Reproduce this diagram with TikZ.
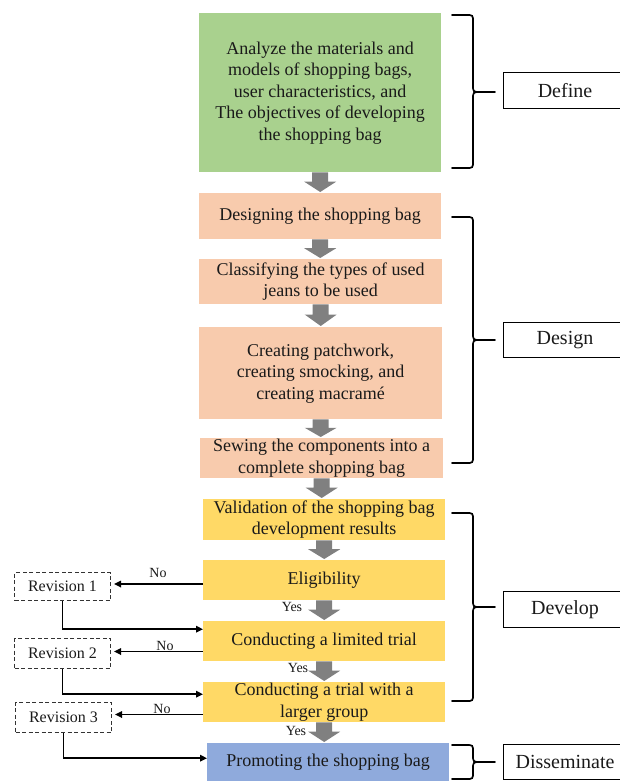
\documentclass[tikz,border=0pt]{standalone}
\usepackage{fontspec}
\setmainfont{Liberation Serif}
\usetikzlibrary{calc,arrows.meta}
\definecolor{cgreen}{HTML}{A9D18E}
\definecolor{corange}{HTML}{F8CBAD}
\definecolor{cyellow}{HTML}{FFD966}
\definecolor{cblue}{HTML}{8FAADC}
\definecolor{arrgray}{HTML}{808080}
\definecolor{txt}{HTML}{1A1A1A}
\newcommand{\fatarr}[2]{%
  \path (#1.south) coordinate (fa) (#2.north -| #1.south) coordinate (fb);
  \fill[arrgray] ($(fa)+(-8,0)$) -- ($(fa)!0.45!(fb)+(-8,0)$) -- ($(fa)!0.45!(fb)+(-16,0)$)
    -- ($(fb)+(0,-1)$) -- ($(fa)!0.45!(fb)+(16,0)$) -- ($(fa)!0.45!(fb)+(8,0)$)
    -- ($(fa)+(8,0)$) -- cycle;}
\newcommand{\rbr}[4]{%
  \draw[brc] (452,#1) -- (466,#1) .. controls (473,#1) .. (473,#1+7) -- (473,#2-7)
    .. controls (473,#2) .. (481,#2) .. controls (473,#2) .. (473,#2+7) -- (473,#3-7)
    .. controls (473,#3) .. (466,#3) -- (452,#3);
  \draw[brc] (481,#2) -- (495,#2) coordinate (#4);}
\begin{document}
\begin{tikzpicture}[x=1pt,y=-1pt,
  box/.style={inner sep=0pt, align=center, anchor=north west, text=txt,
    font=\fontsize{18}{21.5}\selectfont},
  rev/.style={draw=black!80, dashed, dash pattern=on 4pt off 2.5pt, line width=1pt,
    anchor=north west, minimum width=96pt, inner sep=0pt, text=txt,
    font=\fontsize{16}{19}\selectfont},
  lab/.style={draw=black, line width=1pt, anchor=north west, minimum width=123pt,
    inner sep=0pt, text=txt, font=\fontsize{20}{24}\selectfont},
  small/.style={inner sep=0pt, text=txt, font=\fontsize{14}{16}\selectfont},
  conn/.style={draw=black, line width=1.6pt, -{Triangle[length=7pt,width=6.5pt]}},
  brc/.style={draw=black, line width=1.7pt, line cap=round}]
\useasboundingbox (0,0) rectangle (619,781);

% main boxes
\node[box, fill=cgreen, minimum width=242pt, minimum height=159pt] (g) at (199,13)
  {Analyze the materials and\\models of shopping bags,\\user characteristics, and\\The objectives of developing\\the shopping bag};
\node[box, fill=corange, minimum width=242pt, minimum height=46pt] (d1) at (199,193)
  {Designing the shopping bag};
\node[box, fill=corange, minimum width=243pt, minimum height=45pt] (d2) at (199,259)
  {Classifying the types of used\\jeans to be used};
\node[box, fill=corange, minimum width=243pt, minimum height=92pt] (d3) at (199,327)
  {Creating patchwork,\\creating smocking, and\\creating macramé};
\node[box, fill=corange, minimum width=243pt, minimum height=40pt] (d4) at (200,438)
  {Sewing the components into a\\complete shopping bag};
\node[box, fill=cyellow, minimum width=242pt, minimum height=41pt] (v) at (203,499)
  {Validation of the shopping bag\\development results};
\node[box, fill=cyellow, minimum width=242pt, minimum height=40pt] (e) at (203,560)
  {Eligibility};
\node[box, fill=cyellow, minimum width=242pt, minimum height=40pt] (l) at (203,621)
  {Conducting a limited trial};
\node[box, fill=cyellow, minimum width=242pt, minimum height=40pt] (lg) at (203,682)
  {Conducting a trial with a\\larger group};
\node[box, fill=cblue, minimum width=242pt, minimum height=38pt] (p) at (207,743)
  {Promoting the shopping bag};

% fat arrows
\fatarr{g}{d1}
\fatarr{d1}{d2}
\fatarr{d2}{d3}
\fatarr{d3}{d4}
\fatarr{d4}{v}
\fatarr{v}{e}
\fatarr{e}{l}
\fatarr{l}{lg}
\fatarr{lg}{p}

% yes labels
\node[small] (y1) at (292,607) {Yes};
\node[small] (y2) at (298,668) {Yes};
\node[small] (y3) at (296,731) {Yes};

% revisions
\node[rev, minimum height=28pt] (r1) at (14,572) {Revision 1};
\node[rev, minimum height=30pt] (r2) at (14,638) {Revision 2};
\node[rev, minimum height=30pt] (r3) at (15,702) {Revision 3};

\coordinate (n1) at ($(r1.east)+(3,-2.5)$);
\coordinate (n2) at ($(r2.east)+(3,-2)$);
\coordinate (n3) at ($(r3.east)+(3,-3)$);
\draw[conn] (e.west |- n1) -- (n1);
\draw[conn] (l.west |- n2) -- (n2);
\draw[conn] (lg.west |- n3) -- (n3);
\node[small] (no1) at (158,573) {No};
\node[small] (no2) at (165,646) {No};
\node[small] (no3) at (162,709) {No};

\draw[conn] (r1.south) |- ($(l.west)+(0,-12)$);
\draw[conn] (r2.south) |- ($(lg.west)+(0,-8)$);
\draw[conn] (r3.south) |- ($(p.west)+(0,-4)$);

% braces
\rbr{15}{92}{168}{t1}
\rbr{217}{340}{463}{t2}
\rbr{513}{607}{701}{t3}
\rbr{745}{762}{779}{t4}

% phase labels
\node[lab, minimum height=36pt] (defn) at (503,72) {Define};
\node[lab, minimum height=35pt] (desg) at (503,322) {Design};
\node[lab, minimum height=36pt] (devl) at (503,591) {Develop};
\node[lab, minimum height=35pt] (diss) at (503,744) {Disseminate};
\end{tikzpicture}
\end{document}
